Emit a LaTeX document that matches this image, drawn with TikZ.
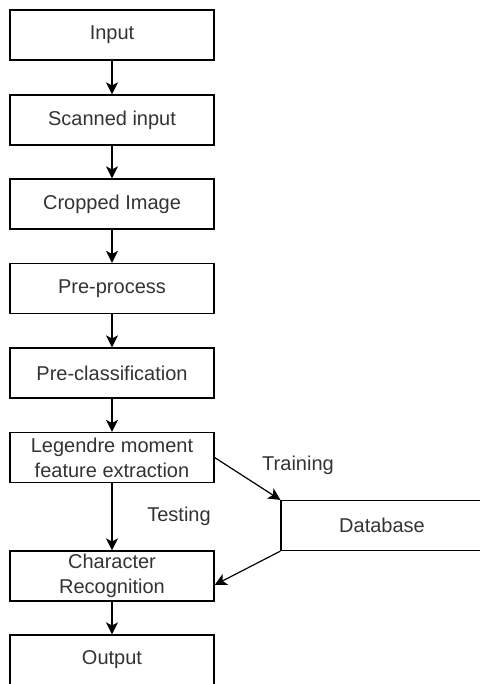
\documentclass[tikz,border=0pt]{standalone}
\usepackage{fontspec}
\setmainfont{Liberation Sans}
\usetikzlibrary{arrows.meta}
\tikzset{
    stage/.style={draw, line width=0.6pt, minimum width=102pt, minimum height=25pt,
        align=center, inner sep=1pt, text=black!80, font=\fontsize{10}{12.5}\selectfont},
    flow/.style={line width=0.6pt, -{Stealth[length=6pt,width=6pt,inset=1.5pt]}},
    tag/.style={text=black!80, font=\fontsize{10}{12.5}\selectfont}
}
\begin{document}
\begin{tikzpicture}[x=0.5pt, y=-0.5pt]
    \useasboundingbox (0,0) rectangle (480,684);
    \node[stage] (inp) at (112,35) {Input};
    \node[stage] (scan) at (112,120) {Scanned input};
    \node[stage] (crop) at (112,204) {Cropped Image};
    \node[stage] (pre) at (112,288.5) {Pre-process};
    \node[stage] (cls) at (112,373) {Pre-classification};
    \node[stage] (feat) at (112,457.5) {Legendre moment\\feature extraction};
    \node[stage] (chr) at (112,576) {Character\\Recognition};
    \node[stage] (out) at (112,660) {Output};
    \node[stage, minimum width=101pt] (db) at (382,525.5) {Database};
    \draw[flow] (inp) -- (scan);
    \draw[flow] (scan) -- (crop);
    \draw[flow] (crop) -- (pre);
    \draw[flow] (pre) -- (cls);
    \draw[flow] (cls) -- (feat);
    \draw[flow] (feat) -- (chr);
    \draw[flow] (chr) -- (out);
    \draw[flow] (feat.east) -- (db.north west);
    \draw[flow] (db.south west) -- ([yshift=-4.5pt]chr.east);
    \node[tag] (train) at (298,465) {Training};
    \node[tag] (test) at (179,516) {Testing};
\end{tikzpicture}
\end{document}
